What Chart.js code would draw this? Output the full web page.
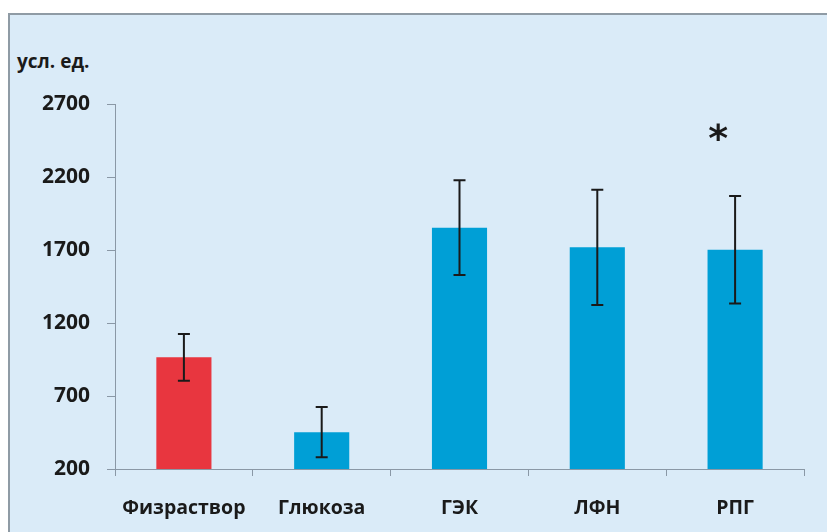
<!DOCTYPE html>
<html>
<head>
<meta charset="utf-8">
<script src="https://cdn.jsdelivr.net/npm/chart.js@4"></script>
<style>
  html, body { margin: 0; background: #fff; width: 827px; height: 532px; overflow: hidden; }
  body { position: relative; }
  #panel { position: absolute; left: 8px; top: 13px; width: 840px; height: 540px; background: #daebf8;
           border-left: 2px solid #8f9ba5; border-top: 2px solid #8f9ba5; box-sizing: border-box; }
  #units { position: absolute; left: 17px; top: 48px; font: bold 19px 'Open Sans', sans-serif; color: #1a1a1a; }
  #wrap { position: absolute; left: 0; top: 0; width: 827px; height: 532px; }
</style>
</head>
<body>
<div id="panel"></div>
<div id="units">усл. ед.</div>
<div id="wrap"><canvas id="myBarChart"></canvas></div>
<script>
  // Datos
  const categories = ['Физраствор', 'Глюкоза', 'ГЭК', 'ЛФН', 'РПГ'];
  const means = [965, 452, 1853, 1718, 1702];
  const errors = [160, 172, 325, 395, 368];
  const significant = [false, false, false, false, true];
  const barColors = ['#e8363f', '#009fd6', '#009fd6', '#009fd6', '#009fd6'];
  const yTicks = [200, 700, 1200, 1700, 2200, 2700];

  const axisColor = '#8a98a6';
  const fontFamily = "'Open Sans', sans-serif";

  // Barras de error y asterisco
  const errorBarsPlugin = {
    id: 'errorBars',
    afterDatasetsDraw(chart) {
      const ctx = chart.ctx;
      const y = chart.scales.y;
      const meta = chart.getDatasetMeta(0);
      ctx.save();
      ctx.strokeStyle = '#1a1a1a';
      ctx.lineWidth = 2;
      meta.data.forEach((bar, i) => {
        const top = y.getPixelForValue(means[i] + errors[i]);
        const bottom = y.getPixelForValue(means[i] - errors[i]);
        ctx.beginPath();
        ctx.moveTo(bar.x, top);
        ctx.lineTo(bar.x, bottom);
        ctx.moveTo(bar.x - 6, top);
        ctx.lineTo(bar.x + 6, top);
        ctx.moveTo(bar.x - 6, bottom);
        ctx.lineTo(bar.x + 6, bottom);
        ctx.stroke();
        if (significant[i]) {
          ctx.fillStyle = '#1a1a1a';
          ctx.font = "bold 38px 'DejaVu Sans', sans-serif";
          ctx.textAlign = 'center';
          ctx.textBaseline = 'middle';
          ctx.fillText('*', bar.x - 17, top - 55);
        }
      });
      ctx.restore();
    }
  };

  const barChartConfig = {
    type: 'bar',
    data: {
      labels: categories,
      datasets: [{
        data: means,
        backgroundColor: barColors,
        borderWidth: 0,
        categoryPercentage: 1,
        barPercentage: 0.4,
      }]
    },
    options: {
      responsive: true,
      maintainAspectRatio: false,
      animation: false,
      layout: { padding: { top: 104, right: 23, bottom: 0, left: 0 } },
      plugins: {
        legend: { display: false },
        tooltip: { enabled: false }
      },
      scales: {
        x: {
          afterFit(scale) { scale.height = 63; },
          border: { display: true, color: axisColor, width: 1 },
          grid: { drawOnChartArea: false, drawTicks: true, tickLength: 7, color: axisColor, offset: true },
          ticks: {
            padding: 21,
            color: '#1a1a1a',
            font: { family: fontFamily, size: 19.5, weight: 'bold' }
          }
        },
        y: {
          min: 200,
          max: 2700,
          afterFit(scale) { scale.width = 115; },
          afterBuildTicks(scale) { scale.ticks = yTicks.map(v => ({ value: v })); },
          border: { display: true, color: axisColor, width: 1 },
          grid: { drawOnChartArea: false, drawTicks: true, tickLength: 8, color: axisColor },
          ticks: {
            padding: 17,
            color: '#1a1a1a',
            font: { family: fontFamily, size: 21, weight: 'bold' },
            callback: (value) => String(value)
          }
        }
      }
    },
    plugins: [errorBarsPlugin]
  };

  const barChartCtx = document.getElementById('myBarChart').getContext('2d');
  new Chart(barChartCtx, barChartConfig);
</script>
</body>
</html>
